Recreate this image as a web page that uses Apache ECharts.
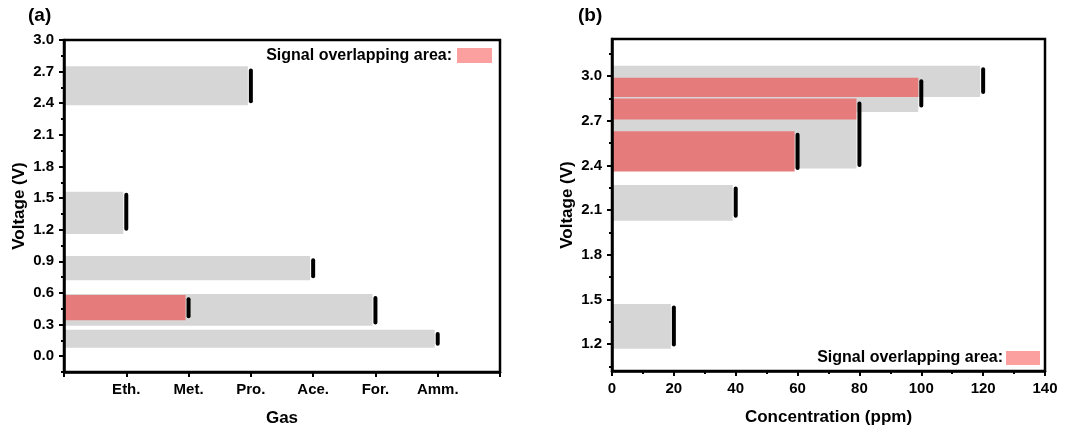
<!DOCTYPE html>
<html>
<head>
<meta charset="utf-8">
<script src="https://cdn.jsdelivr.net/npm/echarts@6/dist/echarts.min.js"></script>
<style>
    html, body { margin: 0; padding: 0; background: #fff; }
    #chart { width: 1084px; height: 431px; }
</style>
</head>
<body>
<div id="chart"></div>
<script>
// (a) gas index on x, voltage range on y: [gasIndex, vLow, vHigh]
const gasLabels = ['Eth.', 'Met.', 'Pro.', 'Ace.', 'For.', 'Amm.']
const gasGray = [[1, 1.16, 1.56], [3, 2.38, 2.75], [4, 0.72, 0.95], [5, 0.29, 0.59], [6, 0.08, 0.25]]
const gasRed = [[2, 0.34, 0.58]]
const gasMarks = [[1, 1.19, 1.55], [2, 0.36, 0.56], [3, 2.40, 2.73], [4, 0.74, 0.93], [5, 0.30, 0.57], [6, 0.10, 0.23]]
const gasYTicks = [0, 0.3, 0.6, 0.9, 1.2, 1.5, 1.8, 2.1, 2.4, 2.7, 3.0]
const gasYMinor = [-0.15, 0.15, 0.45, 0.75, 1.05, 1.35, 1.65, 1.95, 2.25, 2.55, 2.85]

// (b) concentration (ppm) on x: [ppm, vLow, vHigh]
const concGray = [[120, 2.86, 3.07], [100, 2.76, 2.99], [80, 2.38, 2.85], [40, 2.03, 2.27], [20, 1.17, 1.47]]
const concRed = [[100, 2.86, 2.99], [80, 2.71, 2.85], [60, 2.36, 2.63]]
const concMarks = [[120, 2.88, 3.06], [100, 2.79, 2.98], [80, 2.39, 2.83], [60, 2.37, 2.62], [40, 2.05, 2.26], [20, 1.185, 1.46]]
const concYTicks = [1.2, 1.5, 1.8, 2.1, 2.4, 2.7, 3.0]
const concYMinor = [1.05, 1.35, 1.65, 1.95, 2.25, 2.55, 2.85, 3.15]

const font = 'Arial, "Liberation Sans", sans-serif'
const gray = '#d6d6d6'
const red = '#e67b7b'
const pink = '#fc9f9f'

// 横向条：从 x=0 到数值处，留一点缝给黑色标记
function barItem(color) {
    return (params, api) => {
        const a = api.coord([0, api.value(2)])
        const b = api.coord([api.value(0), api.value(1)])
        return {
            type: 'rect',
            shape: { x: a[0], y: a[1], width: b[0] - a[0] - 3, height: b[1] - a[1] },
            style: { fill: color }
        }
    }
}

function markItem(params, api) {
    const a = api.coord([api.value(0), api.value(2)])
    const b = api.coord([api.value(0), api.value(1)])
    return {
        type: 'rect',
        shape: { x: a[0] - 2, y: a[1], width: 4, height: b[1] - a[1], r: 2 },
        style: { fill: '#000' }
    }
}

function series(xi, yi, data, render) {
    return {
        type: 'custom',
        xAxisIndex: xi,
        yAxisIndex: yi,
        renderItem: render,
        data: data,
        silent: true,
        z: 1
    }
}

const labelStyle = { color: '#000', fontSize: 15, fontWeight: 'bold', fontFamily: font }
const nameStyle = { color: '#000', fontSize: 17, fontWeight: 'bold', fontFamily: font }
const lineStyle = { color: '#000', width: 2.5 }

function yAxis(gridIndex, min, max, ticks, name) {
    return {
        type: 'value',
        gridIndex,
        position: 'left',
        z: 5,
        min,
        max,
        name,
        nameLocation: 'middle',
        nameGap: 36,
        nameTextStyle: nameStyle,
        axisLine: { show: true, onZero: false, lineStyle },
        axisTick: { show: true, length: 5, customValues: ticks, lineStyle: { color: '#000', width: 2 } },
        axisLabel: { customValues: ticks, formatter: v => v.toFixed(1), margin: 10, ...labelStyle },
        splitLine: { show: false }
    }
}

function minorAxis(gridIndex, min, max, ticks) {
    return {
        type: 'value',
        gridIndex,
        position: 'left',
        min,
        max,
        axisLine: { show: false, onZero: false },
        axisTick: { show: true, length: 3, customValues: ticks, lineStyle: { color: '#000', width: 2 } },
        axisLabel: { show: false },
        splitLine: { show: false }
    }
}

const gridBase = { show: true, borderColor: '#000', borderWidth: 2.5, backgroundColor: 'transparent', outerBoundsMode: 'none', containLabel: false, z: 4 }

const option = {
    animation: false,
    backgroundColor: '#fff',
    grid: [
        { ...gridBase, left: 64, top: 40, width: 436, height: 332 },
        { ...gridBase, left: 612, top: 39, width: 433, height: 332 }
    ],
    xAxis: [
        {
            type: 'value',
            gridIndex: 0,
            z: 5,
            min: 0,
            max: 7,
            interval: 1,
            name: 'Gas',
            nameLocation: 'middle',
            nameGap: 38,
            nameTextStyle: nameStyle,
            axisLine: { show: true, onZero: false, lineStyle },
            axisTick: { show: true, length: 5, lineStyle: { color: '#000', width: 2 } },
            axisLabel: {
                formatter: v => gasLabels[v - 1] || '',
                showMinLabel: true,
                showMaxLabel: true,
                margin: 10,
                ...labelStyle
            },
            splitLine: { show: false }
        },
        {
            type: 'value',
            gridIndex: 1,
            z: 5,
            min: 0,
            max: 140,
            interval: 20,
            name: 'Concentration (ppm)',
            nameLocation: 'middle',
            nameGap: 38,
            nameTextStyle: nameStyle,
            axisLine: { show: true, onZero: false, lineStyle },
            axisTick: { show: true, length: 5, lineStyle: { color: '#000', width: 2 } },
            minorTick: { show: true, splitNumber: 2, length: 3, lineStyle: { color: '#000', width: 2 } },
            axisLabel: { margin: 10, ...labelStyle },
            splitLine: { show: false }
        }
    ],
    yAxis: [
        yAxis(0, -0.15, 3.0, gasYTicks, 'Voltage (V)'),
        yAxis(1, 1.02, 3.25, concYTicks, 'Voltage (V)'),
        minorAxis(0, -0.15, 3.0, gasYMinor),
        minorAxis(1, 1.02, 3.25, concYMinor)
    ],
    series: [
        series(0, 0, gasGray, barItem(gray)),
        series(0, 0, gasRed, barItem(red)),
        series(0, 0, gasMarks, markItem),
        series(1, 1, concGray, barItem(gray)),
        series(1, 1, concRed, barItem(red)),
        series(1, 1, concMarks, markItem)
    ],
    graphic: [
        { type: 'text', left: 28, top: 6, style: { text: '(a)', font: 'bold 19px ' + font, fill: '#000' } },
        { type: 'text', left: 578, top: 6, style: { text: '(b)', font: 'bold 19px ' + font, fill: '#000' } },
        { type: 'text', x: 452, y: 56, style: { text: 'Signal overlapping area:', font: 'bold 16px ' + font, fill: '#000', align: 'right', verticalAlign: 'middle' } },
        { type: 'rect', shape: { x: 457, y: 48, width: 35, height: 15 }, style: { fill: pink } },
        { type: 'text', x: 1003, y: 358, style: { text: 'Signal overlapping area:', font: 'bold 16px ' + font, fill: '#000', align: 'right', verticalAlign: 'middle' } },
        { type: 'rect', shape: { x: 1006, y: 351, width: 34, height: 14 }, style: { fill: pink } }
    ]
}

const chart = echarts.init(document.getElementById('chart'), null, { renderer: 'canvas' })
chart.setOption(option)
window.addEventListener('resize', () => chart.resize())
</script>
</body>
</html>
